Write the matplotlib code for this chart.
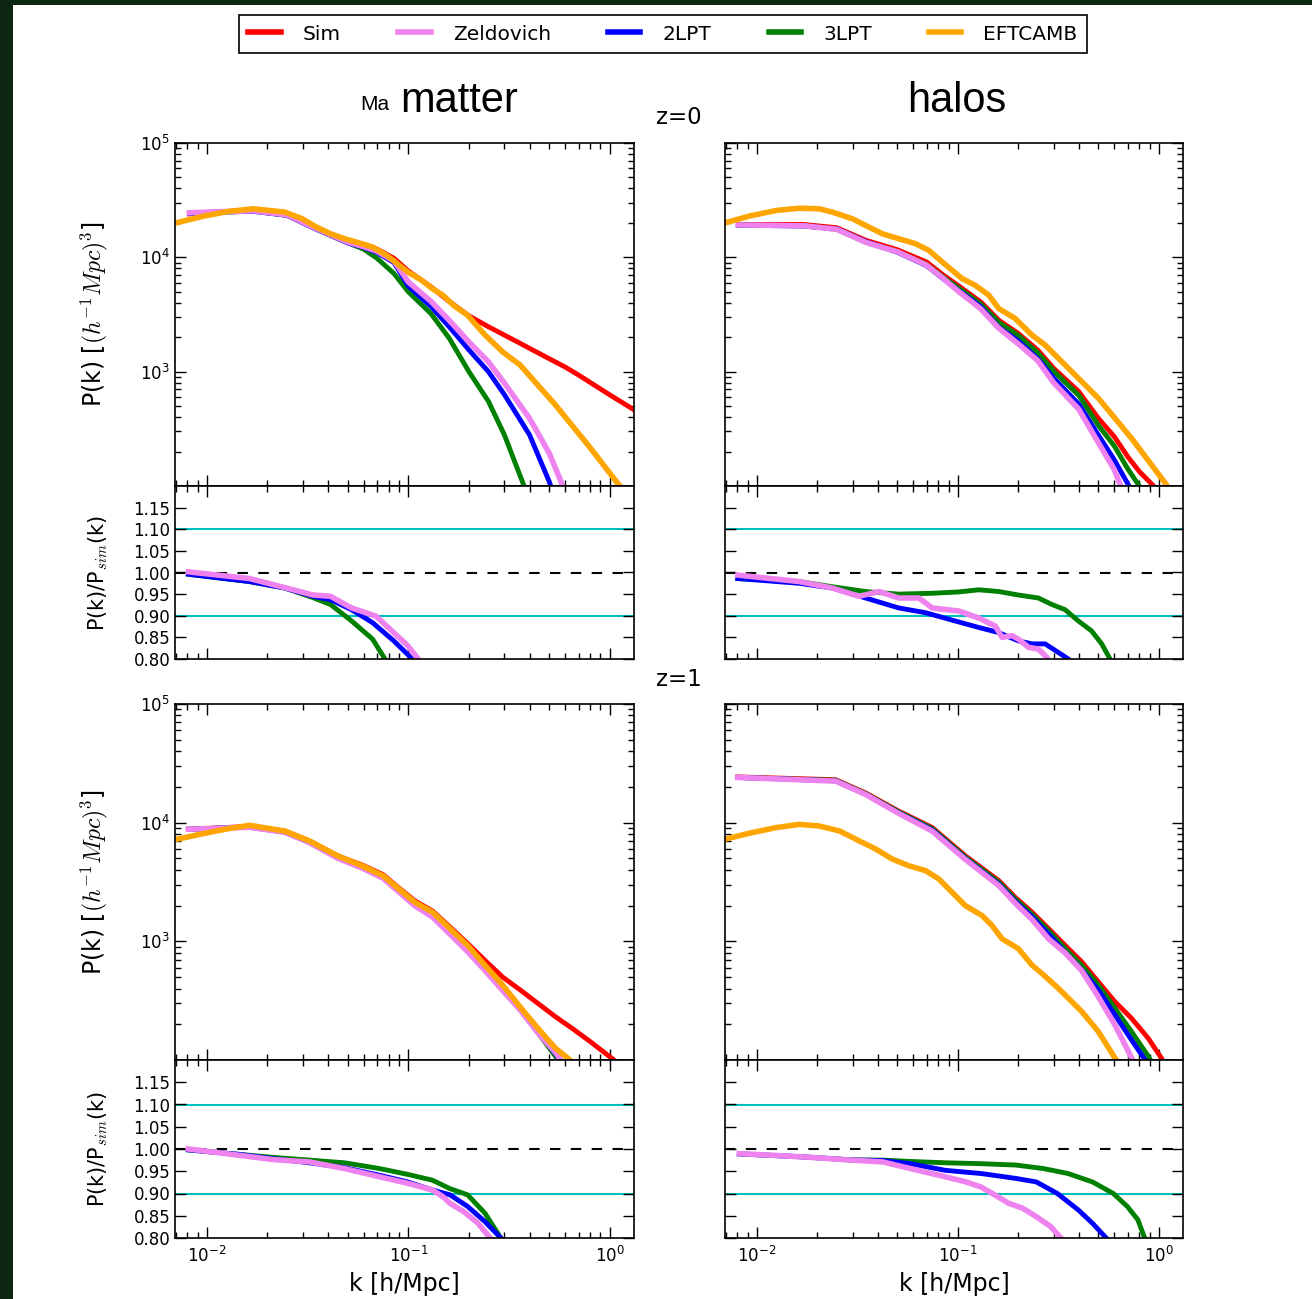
import numpy as np
import matplotlib.pyplot as plt
from matplotlib.patches import Rectangle
from matplotlib.lines import Line2D
from matplotlib.ticker import FormatStrFormatter

# ---------------- data ----------------
labels = ["Sim", "Zeldovich", "2LPT", "3LPT", "EFTCAMB"]
colors = ["red", "violet", "blue", "green", "orange"]

# matter, z=0
k_mz0 = [0.0082, 0.011, 0.017, 0.025, 0.035, 0.05, 0.06, 0.07, 0.085, 0.1, 0.13,
         0.16, 0.2, 0.25, 0.3, 0.4, 0.5, 0.6, 0.7, 1.0, 1.32]
sim_mz0 = [24000, 25000, 25500, 24000, 18000, 14000, 13000, 11800, 9800, 7600, 5500,
           4100, 3080, 2470, 2090, 1600, 1300, 1100, 935, 627, 464]
zel_mz0 = [24500, 25000, 25500, 23500, 17800, 13600, 12400, 11300, 9300, 6100, 4100,
           2800, 1820, 1220, 795, 390, 195, 90]
lpt2_mz0 = [24200, 24800, 25300, 23300, 17600, 13400, 12200, 11000, 9000, 5600, 3700,
            2460, 1550, 1000, 630, 280, 110, 45]
lpt3_mz0 = [24200, 24800, 25300, 23300, 17600, 13400, 11800, 9800, 7200, 5000, 3200,
            1950, 1000, 550, 280, 75]
k_eft_mz0 = [0.00697, 0.00968, 0.0128, 0.017, 0.0244, 0.0298, 0.035, 0.0411, 0.0483,
             0.0566, 0.0665, 0.0782, 0.0881, 0.0993, 0.1167, 0.1315, 0.1485, 0.1676,
             0.1967, 0.24, 0.294, 0.359, 0.537, 0.802, 1.107, 1.32]
eft_mz0 = [19950, 22960, 25200, 26600, 24850, 21740, 18400, 16080, 14540, 13420, 12300,
           10400, 8810, 7450, 6300, 5330, 4670, 3810, 3120, 2100, 1490, 1143, 513, 215,
           103, 75]

# halos, z=0
k_hz0 = [0.0081, 0.017, 0.025, 0.035, 0.05, 0.07, 0.085, 0.1, 0.13, 0.16, 0.2, 0.25,
         0.3, 0.4, 0.5, 0.6, 0.7, 0.8, 1.0]
sim_hz0 = [19400, 19400, 18150, 14070, 11660, 9100, 6970, 5700, 4080, 2820, 2160, 1545,
           1070, 670, 392, 271, 181, 134, 90]
zel_hz0 = [19200, 18900, 17600, 13500, 11200, 8550, 6500, 5100, 3550, 2400, 1750, 1250,
           800, 470, 240, 140, 70]
lpt2_hz0 = [19100, 18800, 17700, 13700, 11100, 8450, 6450, 5200, 3700, 2450, 1860, 1300,
            880, 520, 280, 170, 105, 70]
lpt3_hz0 = [19100, 18900, 17600, 13500, 11200, 8650, 6650, 5450, 3900, 2700, 2070, 1460,
            1010, 620, 340, 225, 142, 100, 60]
k_eft_hz0 = [0.00692, 0.0092, 0.01248, 0.0163, 0.0205, 0.0238, 0.0299, 0.0348, 0.0421,
             0.0509, 0.0616, 0.0718, 0.0836, 0.105, 0.122, 0.1426, 0.16, 0.193, 0.234,
             0.272, 0.317, 0.414, 0.501, 0.731, 1.09, 1.2]
eft_hz0 = [20000, 22960, 25700, 26900, 26550, 24850, 21740, 19000, 16080, 14540, 13160,
           11510, 9120, 6520, 5700, 4670, 3560, 2920, 2090, 1710, 1307, 818, 585, 262,
           103, 80]

# matter, z=1
k_mz1 = [0.0081, 0.0163, 0.0244, 0.0324, 0.0446, 0.059, 0.075, 0.088, 0.1076, 0.132,
         0.161, 0.197, 0.24, 0.294, 0.359, 0.44, 0.537, 0.65, 0.8, 1.05]
sim_mz1 = [8800, 9300, 8500, 7000, 5250, 4400, 3650, 2900, 2200, 1800, 1320, 960, 692,
           500, 390, 300, 232, 185, 143, 100]
zel_mz1 = [8800, 9150, 8300, 6800, 5020, 4150, 3400, 2690, 2000, 1600, 1150, 820, 570,
           385, 265, 170, 116, 74]
lpt2_mz1 = [8800, 9180, 8330, 6790, 5040, 4180, 3440, 2710, 2020, 1630, 1180, 835, 580,
            395, 270, 175, 113, 72]
lpt3_mz1 = [8800, 9180, 8340, 6830, 5100, 4250, 3500, 2780, 2080, 1670, 1200, 860, 592,
            400, 268, 170, 108, 68]
k_eft_mz1 = [0.00697, 0.01, 0.0128, 0.0163, 0.0244, 0.0324, 0.0446, 0.059, 0.075, 0.088,
             0.1076, 0.132, 0.161, 0.197, 0.24, 0.294, 0.359, 0.44, 0.537, 0.618, 0.7]
eft_mz1 = [7200, 8200, 8900, 9500, 8500, 7000, 5250, 4330, 3570, 2850, 2140, 1760, 1280,
           925, 630, 428, 280, 185, 126, 104, 85]

# halos, z=1
k_hz1 = [0.00805, 0.0247, 0.0348, 0.0509, 0.0746, 0.109, 0.16, 0.193, 0.234, 0.283,
         0.342, 0.414, 0.5, 0.605, 0.731, 0.885, 1.03]
sim_hz1 = [24300, 23000, 17800, 12500, 9100, 5260, 3250, 2350, 1760, 1280, 925, 671, 456,
           310, 225, 153, 104]
zel_hz1 = [24050, 22400, 17300, 11950, 8500, 4900, 2950, 2100, 1530, 1050, 800, 565, 342,
           198, 105, 60]
lpt2_hz1 = [24050, 22500, 17350, 12100, 8700, 4980, 3030, 2170, 1610, 1150, 810, 575, 390,
            240, 148, 92]
lpt3_hz1 = [24050, 22750, 17550, 12300, 8900, 5120, 3150, 2270, 1690, 1225, 870, 625, 428,
            273, 174, 108, 70]
k_eft_hz1 = [0.00692, 0.0092, 0.01248, 0.0163, 0.0205, 0.0258, 0.0324, 0.0392, 0.0473,
             0.0572, 0.0692, 0.0805, 0.0937, 0.109, 0.132, 0.148, 0.166, 0.2, 0.234, 0.262,
             0.317, 0.414, 0.5, 0.605, 0.7]
eft_hz1 = [7240, 8150, 9090, 9680, 9370, 8510, 7010, 5980, 4930, 4330, 3940, 3350, 2590,
           2000, 1650, 1360, 1050, 868, 630, 537, 401, 256, 174, 104, 75]

# ratios P/P_sim
rk_zel_mz0 = [0.0081, 0.0163, 0.0244, 0.0336, 0.0411, 0.0523, 0.0692, 0.0847, 0.0993, 0.112, 0.12]
r_zel_mz0 = [1.0015, 0.986, 0.965, 0.948, 0.945, 0.918, 0.899, 0.861, 0.831, 0.80, 0.78]
rk_2lpt_mz0 = [0.0081, 0.0163, 0.0244, 0.0336, 0.0411, 0.0523, 0.0665, 0.0847, 0.1047, 0.11]
r_2lpt_mz0 = [0.996, 0.979, 0.964, 0.945, 0.937, 0.914, 0.884, 0.842, 0.80, 0.785]
rk_3lpt_mz0 = [0.0081, 0.0163, 0.0244, 0.0336, 0.0411, 0.0523, 0.0665, 0.0766, 0.08]
r_3lpt_mz0 = [0.996, 0.979, 0.964, 0.942, 0.926, 0.888, 0.846, 0.80, 0.785]

rk_zel_hz0 = [0.00805, 0.0163, 0.0238, 0.0323, 0.0406, 0.0509, 0.0641, 0.0746, 0.101, 0.127,
              0.154, 0.166, 0.186, 0.2, 0.225, 0.252, 0.277, 0.29]
r_zel_hz0 = [0.994, 0.979, 0.964, 0.945, 0.956, 0.941, 0.941, 0.918, 0.911, 0.895,
             0.876, 0.85, 0.854, 0.846, 0.827, 0.823, 0.804, 0.79]
rk_2lpt_hz0 = [0.00805, 0.0163, 0.0238, 0.0348, 0.0509, 0.0692, 0.0902, 0.127, 0.16, 0.2,
               0.234, 0.272, 0.305, 0.355, 0.37]
r_2lpt_hz0 = [0.986, 0.975, 0.964, 0.941, 0.918, 0.907, 0.892, 0.873, 0.861, 0.842,
              0.835, 0.835, 0.82, 0.80, 0.79]
rk_3lpt_hz0 = [0.00805, 0.0163, 0.0238, 0.0348, 0.0509, 0.0746, 0.101, 0.127, 0.16, 0.2,
               0.252, 0.294, 0.342, 0.398, 0.463, 0.52, 0.572, 0.59]
r_3lpt_hz0 = [0.986, 0.979, 0.967, 0.956, 0.95, 0.952, 0.955, 0.96, 0.956, 0.948,
              0.941, 0.926, 0.914, 0.888, 0.865, 0.835, 0.80, 0.785]

rk_zel_mz1 = [0.0081, 0.0144, 0.0216, 0.0323, 0.0483, 0.0721, 0.0993, 0.1316, 0.1485, 0.161,
              0.189, 0.222, 0.255, 0.265]
r_zel_mz1 = [1.0, 0.986, 0.976, 0.971, 0.956, 0.9375, 0.923, 0.908, 0.893, 0.878,
             0.859, 0.833, 0.80, 0.79]
rk_2lpt_mz1 = [0.0081, 0.0144, 0.0216, 0.0323, 0.0483, 0.0721, 0.0993, 0.1316, 0.161, 0.197,
               0.24, 0.288, 0.3]
r_2lpt_mz1 = [0.998, 0.988, 0.978, 0.969, 0.958, 0.941, 0.926, 0.908, 0.897, 0.871,
              0.837, 0.80, 0.79]
rk_3lpt_mz1 = [0.0081, 0.0144, 0.0216, 0.0323, 0.0483, 0.0721, 0.0993, 0.1316, 0.161, 0.197,
               0.24, 0.288, 0.3]
r_3lpt_mz1 = [0.998, 0.988, 0.981, 0.975, 0.969, 0.956, 0.943, 0.93, 0.911, 0.897,
              0.856, 0.80, 0.79]

rk_zel_hz1 = [0.00819, 0.0175, 0.0295, 0.0423, 0.0582, 0.0869, 0.11, 0.13, 0.158, 0.179,
              0.21, 0.246, 0.289, 0.326, 0.34]
r_zel_hz1 = [0.9896, 0.982, 0.975, 0.971, 0.956, 0.9375, 0.926, 0.915, 0.893, 0.878,
             0.867, 0.848, 0.826, 0.80, 0.79]
rk_2lpt_hz1 = [0.00819, 0.0175, 0.0295, 0.0423, 0.0582, 0.0869, 0.13, 0.194, 0.246, 0.313,
               0.398, 0.468, 0.548, 0.57]
r_2lpt_hz1 = [0.989, 0.982, 0.9755, 0.974, 0.967, 0.952, 0.945, 0.934, 0.926, 0.9,
              0.863, 0.833, 0.80, 0.79]
rk_3lpt_hz1 = [0.00819, 0.0175, 0.0295, 0.0423, 0.0582, 0.0869, 0.13, 0.194, 0.267, 0.353,
               0.468, 0.594, 0.697, 0.787, 0.851, 0.87]
r_3lpt_hz1 = [0.989, 0.982, 0.9755, 0.975, 0.972, 0.969, 0.967, 0.964, 0.956, 0.945,
              0.926, 0.9, 0.871, 0.841, 0.80, 0.79]

# ---------------- figure ----------------
W, H = 1312, 1299
fig = plt.figure(figsize=(W / 100, H / 100), dpi=100, facecolor="#0c2612")
fig.add_artist(Rectangle((13 / W, 0), 1, 1 - 5 / H, transform=fig.transFigure,
                         facecolor="white", edgecolor="none", zorder=-10))


def px_rect(x0, x1, y0, y1):
    return [x0 / W, 1 - y1 / H, (x1 - x0) / W, (y1 - y0) / H]


def style(ax):
    ax.set_xscale("log")
    ax.set_xlim(0.00695, 1.32)
    ax.tick_params(which="both", direction="in", top=True, right=True, labelsize=12)
    ax.tick_params(which="major", length=8, width=1)
    ax.tick_params(which="minor", length=4, width=1)
    for s in ax.spines.values():
        s.set_linewidth(1.2)


def upper_panel(rect, k, sim, zel, lpt2, lpt3, keft, eft, left):
    ax = fig.add_axes(rect)
    style(ax)
    ax.set_yscale("log")
    ax.set_ylim(100, 1e5)
    ax.set_yticks([1e3, 1e4, 1e5])
    lw = 3.5
    # drawing order: Sim, 3LPT, 2LPT, Zeldovich, EFTCAMB
    ax.plot(k[:len(sim)], sim, color=colors[0], lw=lw)
    ax.plot(k[:len(lpt3)], lpt3, color=colors[3], lw=lw)
    ax.plot(k[:len(lpt2)], lpt2, color=colors[2], lw=lw)
    ax.plot(k[:len(zel)], zel, color=colors[1], lw=lw + 0.5)
    ax.plot(keft, eft, color=colors[4], lw=lw + 0.5)
    ax.tick_params(labelbottom=False)
    if left:
        ax.set_ylabel(r"P(k) [$(h^{-1}Mpc)^3$]", fontsize=17, math_fontfamily="cm")
        ax.yaxis.set_label_coords(-0.142, 0.5)
    else:
        ax.tick_params(labelleft=False)
    return ax


def ratio_panel(rect, rz, rl2, rl3, left, bottom):
    ax = fig.add_axes(rect)
    style(ax)
    ax.set_ylim(0.8, 1.2)
    ax.set_yticks(np.arange(0.8, 1.151, 0.05))
    ax.yaxis.set_major_formatter(FormatStrFormatter("%.2f"))
    ax.axhline(1.1, color="c", lw=1.5, zorder=1)
    ax.axhline(0.9, color="c", lw=1.5, zorder=1)
    ax.axhline(1.0, color="k", lw=1.5, ls="--", dashes=(5, 5), zorder=1)
    ax.plot(rl3[0], rl3[1], color=colors[3], lw=3.5, zorder=2)
    ax.plot(rl2[0], rl2[1], color=colors[2], lw=3.5, zorder=2)
    ax.plot(rz[0], rz[1], color=colors[1], lw=4.0, zorder=2)
    if left:
        ax.set_ylabel(r"P(k)/P$_{sim}$(k)", fontsize=15, math_fontfamily="cm")
        ax.yaxis.set_label_coords(-0.142, 0.5)
    else:
        ax.tick_params(labelleft=False)
    if bottom:
        ax.set_xlabel("k [h/Mpc]", fontsize=17)
        ax.tick_params(axis="x", pad=6)
    else:
        ax.tick_params(labelbottom=False)
    return ax


xl0, xl1 = 175, 634
xr0, xr1 = 725, 1183

upper_panel(px_rect(xl0, xl1, 143, 486), k_mz0, sim_mz0, zel_mz0, lpt2_mz0, lpt3_mz0,
            k_eft_mz0, eft_mz0, True)
upper_panel(px_rect(xr0, xr1, 143, 486), k_hz0, sim_hz0, zel_hz0, lpt2_hz0, lpt3_hz0,
            k_eft_hz0, eft_hz0, False)
upper_panel(px_rect(xl0, xl1, 704, 1060), k_mz1, sim_mz1, zel_mz1, lpt2_mz1, lpt3_mz1,
            k_eft_mz1, eft_mz1, True)
upper_panel(px_rect(xr0, xr1, 704, 1060), k_hz1, sim_hz1, zel_hz1, lpt2_hz1, lpt3_hz1,
            k_eft_hz1, eft_hz1, False)

ratio_panel(px_rect(xl0, xl1, 486, 659), (rk_zel_mz0, r_zel_mz0), (rk_2lpt_mz0, r_2lpt_mz0),
            (rk_3lpt_mz0, r_3lpt_mz0), True, False)
ratio_panel(px_rect(xr0, xr1, 486, 659), (rk_zel_hz0, r_zel_hz0), (rk_2lpt_hz0, r_2lpt_hz0),
            (rk_3lpt_hz0, r_3lpt_hz0), False, False)
ratio_panel(px_rect(xl0, xl1, 1060, 1238), (rk_zel_mz1, r_zel_mz1), (rk_2lpt_mz1, r_2lpt_mz1),
            (rk_3lpt_mz1, r_3lpt_mz1), True, True)
ratio_panel(px_rect(xr0, xr1, 1060, 1238), (rk_zel_hz1, r_zel_hz1), (rk_2lpt_hz1, r_2lpt_hz1),
            (rk_3lpt_hz1, r_3lpt_hz1), False, True)

# titles
fig.text(360 / W, 1 - 110 / H, "Ma", fontsize=15, family="Liberation Sans", ha="left", va="baseline")
fig.text(400 / W, 1 - 112 / H, "matter", fontsize=30, family="Liberation Sans", ha="left", va="baseline")
fig.text(907 / W, 1 - 112 / H, "halos", fontsize=30, family="Liberation Sans", ha="left", va="baseline")
fig.text(679 / W, 1 - 118 / H, "z=0", fontsize=16.5, ha="center", va="center")
fig.text(679 / W, 1 - 679 / H, "z=1", fontsize=16.5, ha="center", va="center")

# legend
handles = [Line2D([], [], color=c, lw=4) for c in colors]
leg = fig.legend(handles, labels, loc="center", bbox_to_anchor=(663 / W, 1 - 34 / H), ncol=5,
                 fontsize=14.5, frameon=True, fancybox=False, edgecolor="black", framealpha=1,
                 handlelength=1.6, handletextpad=1.1, columnspacing=2.85, borderpad=0.45)
leg.get_frame().set_linewidth(1.2)

fig.savefig("out.png", dpi=100, facecolor=fig.get_facecolor())
